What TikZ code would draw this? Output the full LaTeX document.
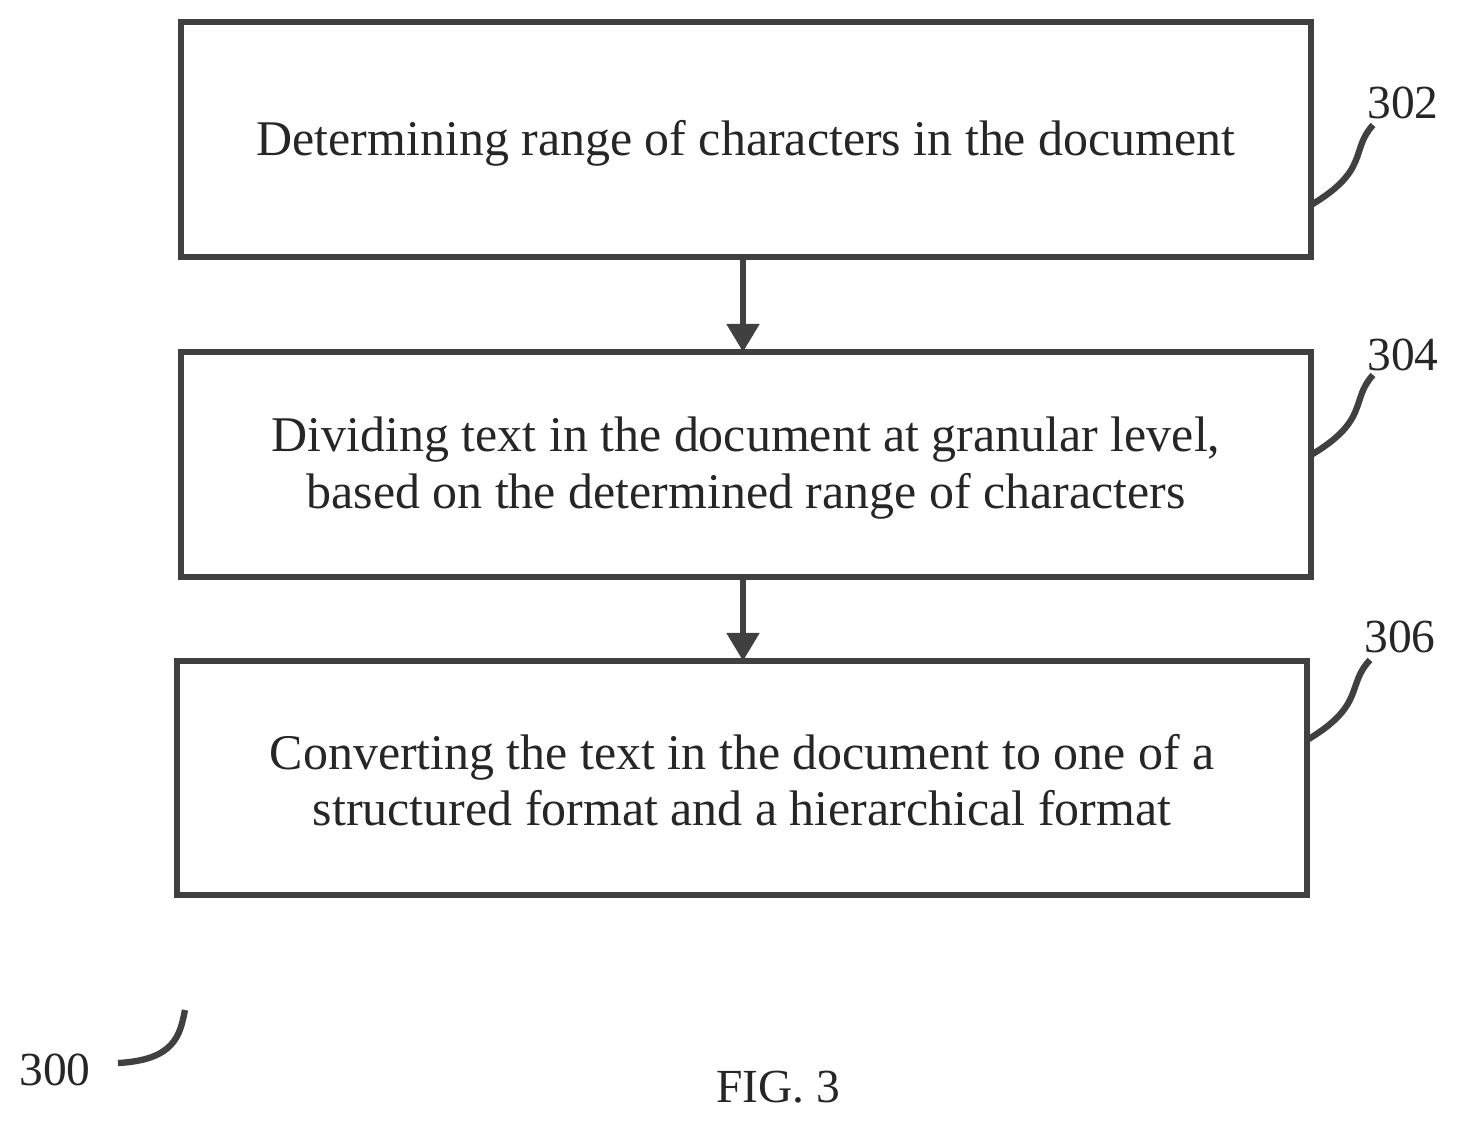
\documentclass[tikz,border=0pt]{standalone}
\usepackage{fontspec}
\setmainfont{Liberation Serif}
\usetikzlibrary{arrows.meta}
\begin{document}
\begin{tikzpicture}[x=0.01cm,y=-0.01cm,
  box/.style={draw=black!75,line width=1.8pt,inner sep=0pt},
  txt/.style={font=\fontsize{14.2pt}{16pt}\selectfont,text=black!85,align=center},
  lab/.style={font=\fontsize{13.5pt}{16pt}\selectfont,text=black!85},
  arr/.style={draw=black!75,line width=1.8pt,-{Triangle[length=8pt,width=9pt]}},
  sq/.style={draw=black!75,line width=1.8pt}]
\useasboundingbox (0,0) rectangle (1460,1123);
\draw[box] (181,22) rectangle (1311,257);
\draw[box] (181,352) rectangle (1311,577);
\draw[box] (177,661) rectangle (1307,895);
\coordinate (b1b) at (743,257); \coordinate (b2t) at (743,352);
\coordinate (b2b) at (743,577); \coordinate (b3t) at (743,661);
\node[txt] (t1) at (746,143) {Determining range of characters in the document};
\node[txt] (t2) at (746,468) {Dividing text in the document at granular level,\\based on the determined range of characters};
\node[txt] (t3) at (742,780) {Converting the text in the document to one of a\\structured format and a hierarchical format};
\draw[arr] (b1b) -- (b2t);
\draw[arr] (b2b) -- (b3t);
\node[lab] (l302) at (1403,103) {302};
\node[lab] (l304) at (1403,355) {304};
\node[lab] (l306) at (1400,637) {306};
\node[lab] (l300) at (55,1070) {300};
\node[lab] (fig) at (778,1087) {FIG. 3};
\draw[sq] (1311,205) .. controls (1370,170) and (1350,150) .. (1373,125);
\draw[sq] (1311,455) .. controls (1370,420) and (1350,400) .. (1373,375);
\draw[sq] (1307,740) .. controls (1366,705) and (1346,685) .. (1370,660);
\draw[sq] (118,1063) .. controls (175,1060) and (180,1035) .. (185,1010);
\end{tikzpicture}
\end{document}
